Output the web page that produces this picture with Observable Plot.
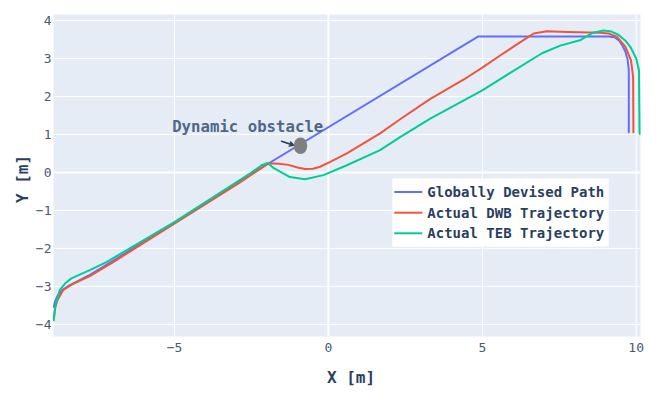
<!DOCTYPE html>
<html><head><meta charset="utf-8">
<script src="https://cdn.jsdelivr.net/npm/d3@7"></script>
<script src="https://cdn.jsdelivr.net/npm/@observablehq/plot@0.6"></script>
<style>body{margin:0;background:#fff}#chart{width:664px;height:393px}</style>
</head><body><div id="chart"></div>
<script>
// ---- data ----
const seriesNames = ["Globally Devised Path", "Actual DWB Trajectory", "Actual TEB Trajectory"];
const seriesColors = ["#636efa", "#EF553B", "#00cc96"];

const globalX = [-8.92, -8.88, -8.8, -8.65, -8.45, -8.2, -7.8, -7.0, -5.0, -2.0, 4.86, 9.1, 9.3, 9.45, 9.56, 9.65, 9.72, 9.76, 9.76];
const globalY = [-3.54, -3.40, -3.25, -3.10, -2.99, -2.89, -2.72, -2.33, -1.32, 0.21, 3.58, 3.58, 3.56, 3.47, 3.33, 3.18, 2.98, 2.70, 1.06];

const dwbX = [-8.92, -8.87, -8.8, -8.62, -8.29, -7.75, -6.99, -4.99, -2.87, -1.95, -1.6, -1.3, -1.0, -0.76, -0.5, -0.27, 0.06, 0.6, 1.68, 2.33, 3.3, 4.5, 5.0, 5.58, 6.4, 6.67, 7.1, 7.75, 8.84, 9.1, 9.38, 9.65, 9.83, 9.9, 9.91];
const dwbY = [-3.85, -3.55, -3.36, -3.10, -2.93, -2.73, -2.36, -1.34, -0.26, 0.24, 0.23, 0.20, 0.13, 0.09, 0.10, 0.15, 0.28, 0.50, 1.03, 1.40, 1.93, 2.50, 2.76, 3.08, 3.52, 3.66, 3.72, 3.70, 3.68, 3.66, 3.57, 3.31, 2.96, 2.52, 1.06];

const tebX = [-8.92, -8.88, -8.8, -8.73, -8.55, -8.35, -7.75, -7.21, -4.99, -2.55, -2.17, -1.97, -1.8, -1.57, -1.25, -0.76, -0.16, 0.6, 1.68, 2.33, 3.31, 5.0, 6.0, 6.94, 7.53, 8.2, 8.6, 8.94, 9.2, 9.43, 9.65, 9.81, 10.0, 10.09, 10.11];
const tebY = [-3.89, -3.55, -3.30, -3.10, -2.92, -2.79, -2.57, -2.36, -1.30, -0.03, 0.19, 0.25, 0.13, 0.02, -0.12, -0.18, -0.07, 0.19, 0.59, 0.93, 1.42, 2.16, 2.67, 3.14, 3.34, 3.49, 3.68, 3.74, 3.71, 3.62, 3.47, 3.31, 3.00, 2.69, 1.02];

const xTicks = [-5, 0, 5, 10];
const yTicks = [-4, -3, -2, -1, 0, 1, 2, 3, 4];

const obstacleX = [-0.89];
const obstacleY = [0.69];
const obstacleR = [0.22];

const annotationText = ["Dynamic obstacle"];
const annotationX = [-2.62];
const annotationY = [1.19];
const arrowX1 = [-1.52], arrowY1 = [0.82], arrowX2 = [-1.14], arrowY2 = [0.72];

const xTitle = "X [m]";
const yTitle = "Y [m]";

// ---- build tables ----
const rows = (name, xs, ys) => xs.map((x, i) => ({series: name, x, y: ys[i]}));
const lineData = [
  ...rows(seriesNames[0], globalX, globalY),
  ...rows(seriesNames[1], dwbX, dwbY),
  ...rows(seriesNames[2], tebX, tebY)
];
const obstacles = obstacleX.map((x, i) => ({x1: x - obstacleR[i], x2: x + obstacleR[i], y1: obstacleY[i] - obstacleR[i], y2: obstacleY[i] + obstacleR[i]}));
const annotations = annotationText.map((t, i) => ({text: t, x: annotationX[i], y: annotationY[i]}));
const arrows = arrowX1.map((x, i) => ({x1: x, y1: arrowY1[i], x2: arrowX2[i], y2: arrowY2[i]}));

const W = 664, H = 393, mL = 53, mR = 24, mT = 14, mB = 57;

const plot = Plot.plot({
  width: W, height: H,
  marginLeft: mL, marginRight: mR, marginTop: mT, marginBottom: mB,
  x: {domain: [-8.93, 10.14], label: null},
  y: {domain: [-4.32, 4.16], label: null},
  color: {domain: seriesNames, range: seriesColors},
  style: {fontFamily: "DejaVu Sans Mono", fontSize: "13px", color: "#2a3f5f", background: "white", overflow: "visible"},
  marks: [
    Plot.frame({fill: "#E5ECF6", stroke: null}),
    Plot.ruleX(xTicks.filter(d => d !== 0), {stroke: "white", strokeWidth: 1}),
    Plot.ruleY(yTicks.filter(d => d !== 0), {stroke: "white", strokeWidth: 1}),
    Plot.ruleX([0], {stroke: "white", strokeWidth: 2}),
    Plot.ruleY([0], {stroke: "white", strokeWidth: 2}),
    Plot.axisX({ticks: xTicks, tickSize: 0, tickPadding: 6, label: null, fill: "#4b5874"}),
    Plot.axisY({ticks: yTicks, tickSize: 0, tickPadding: 2, label: null, fill: "#4b5874"}),
    Plot.line(lineData, {x: "x", y: "y", z: "series", stroke: "series", strokeWidth: 2}),
    Plot.rect(obstacles, {x1: "x1", x2: "x2", y1: "y1", y2: "y2", fill: "#7f7f7f", rx: 6.7, ry: 8.4}),
    Plot.arrow(arrows, {x1: "x1", y1: "y1", x2: "x2", y2: "y2", stroke: "#2a3f5f", strokeWidth: 1.6, headLength: 6}),
    Plot.text(annotations, {x: "x", y: "y", text: "text", fill: "#506784", fontWeight: "bold", fontSize: 15.7, fontFamily: "DejaVu Sans Mono"})
  ]
});

const svg = d3.select(plot);
// axis titles
svg.append("text").attr("x", 351).attr("y", 377.5).attr("dy", "0.35em").attr("text-anchor", "middle")
  .attr("font-family", "DejaVu Sans Mono").attr("font-size", 16).attr("font-weight", "bold").attr("fill", "#2a3f5f").text(xTitle);
svg.append("text").attr("transform", "translate(22,179) rotate(-90)").attr("dy", "0.35em").attr("text-anchor", "middle")
  .attr("font-family", "DejaVu Sans Mono").attr("font-size", 16).attr("font-weight", "bold").attr("fill", "#2a3f5f").text(yTitle);

// legend
const lg = svg.append("g").attr("transform", "translate(392.3,178.3)").attr("text-anchor", "start");
lg.append("rect").attr("width", 216.4).attr("height", 68.4).attr("fill", "white");
const rowY = [13.7, 34.4, 55.0];
seriesNames.forEach((name, i) => {
  lg.append("line").attr("x1", 2).attr("x2", 30).attr("y1", rowY[i]).attr("y2", rowY[i])
    .attr("stroke", seriesColors[i]).attr("stroke-width", 2);
  lg.append("text").attr("x", 35).attr("y", rowY[i]).attr("dy", "0.35em").attr("text-anchor", "start")
    .attr("font-family", "DejaVu Sans Mono").attr("font-size", 14).attr("font-weight", "bold")
    .attr("fill", "#2a3f5f").text(name);
});

document.getElementById("chart").appendChild(plot);
</script>
</body></html>
